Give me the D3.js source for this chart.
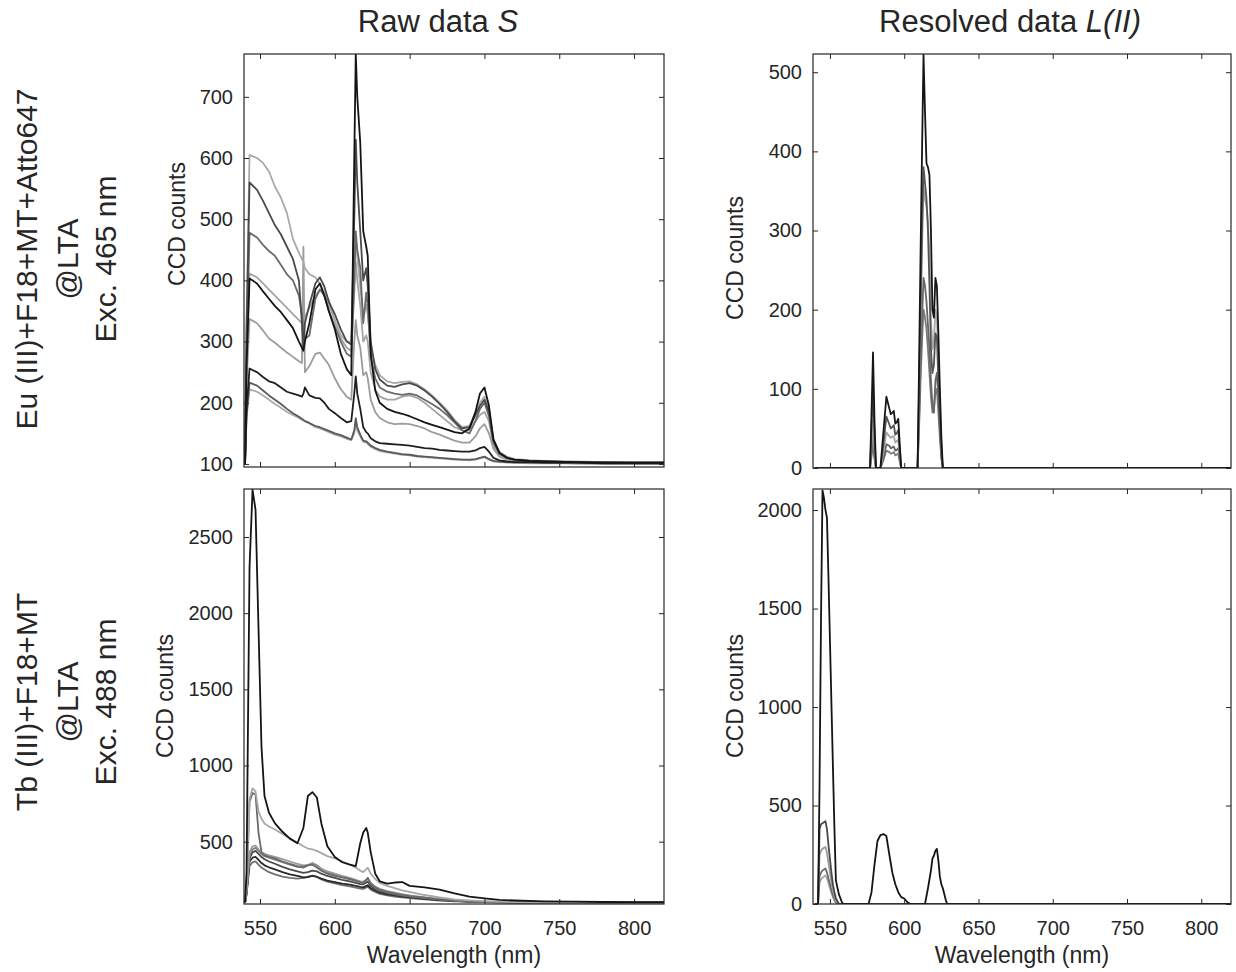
<!DOCTYPE html>
<html>
<head>
  <style>
    body { margin: 0; background: #fff; }
    svg text { font-family: "Liberation Sans", Arial, sans-serif; fill: #262626; }
  </style>
</head>
<body>
  <svg id="chart" width="1236" height="972"></svg>

  <script src="https://d3js.org/d3.v7.min.js"></script>
  <script>
    // ---- data ----
    const xTicks = [550, 600, 650, 700, 750, 800];
    const columnTitles = ['Raw data ', 'Resolved data '];
    const columnTitlesItalic = ['S', 'L(II)'];
    const rowLabels = [
      ['Eu (III)+F18+MT+Atto647', '@LTA', 'Exc. 465 nm'],
      ['Tb (III)+F18+MT', '@LTA', 'Exc. 488 nm']
    ];
    const yTicksEuRaw = [100, 200, 300, 400, 500, 600, 700];
    const yTicksEuRes = [0, 100, 200, 300, 400, 500];
    const yTicksTbRaw = [500, 1000, 1500, 2000, 2500];
    const yTicksTbRes = [0, 500, 1000, 1500, 2000];

    // Eu raw spectra (top left)
    const euRawWl = [540, 541, 543, 548, 552, 556, 560, 564, 568, 572,
      576, 578, 579, 580, 583, 587, 590, 593, 596, 600,
      604, 608, 611, 613, 614, 615, 617, 619, 621, 622,
      624, 627, 630, 635, 640, 645, 650, 655, 660, 665,
      670, 675, 680, 685, 690, 694, 697, 700, 703, 706,
      710, 715, 720, 730, 740, 760, 780, 800, 820];
    const euRawI = [100, 175, 222, 218, 212, 205, 198, 192, 185, 180, 175, 172, 171, 170, 166, 160, 158, 155, 152, 148, 145, 141, 139, 150, 165, 155, 145, 136, 135, 133, 128, 124, 121, 119, 117, 115, 114, 112, 111, 110, 109, 108, 107, 107, 106, 107, 109, 111, 107, 104, 103, 102, 102, 101, 101, 101, 100, 100, 100];
    const euRawH = [100, 180, 233, 228, 220, 212, 205, 198, 190, 183, 177, 174, 172, 170, 167, 162, 160, 157, 154, 150, 147, 143, 140, 155, 175, 160, 148, 138, 137, 135, 130, 126, 123, 120, 118, 116, 115, 113, 112, 111, 110, 109, 108, 107, 107, 108, 110, 112, 108, 105, 104, 103, 102, 102, 102, 101, 101, 101, 101];
    const euRawF = [100, 230, 337, 330, 318, 305, 298, 290, 282, 275, 268, 265, 455, 250, 260, 280, 282, 272, 262, 240, 222, 210, 205, 300, 335, 310, 290, 245, 250, 240, 205, 185, 175, 168, 165, 166, 165, 162, 158, 152, 148, 143, 138, 135, 135, 145, 158, 165, 150, 125, 112, 107, 105, 104, 103, 102, 102, 101, 101];
    const euRawE = [100, 270, 411, 405, 395, 385, 375, 365, 355, 345, 335, 330, 330, 340, 355, 375, 385, 380, 360, 335, 305, 290, 285, 380, 430, 400, 360, 300, 310, 300, 250, 222, 210, 205, 205, 210, 212, 208, 200, 190, 180, 170, 160, 155, 155, 170, 180, 185, 170, 130, 115, 108, 106, 105, 104, 103, 102, 102, 102];
    const euRawA = [100, 330, 605, 600, 592, 578, 553, 535, 510, 468, 445, 435, 430, 420, 410, 405, 395, 380, 368, 335, 310, 300, 300, 400, 470, 440, 390, 340, 360, 345, 290, 262, 245, 235, 232, 234, 235, 230, 222, 212, 200, 188, 172, 160, 162, 185, 200, 210, 190, 140, 120, 112, 108, 106, 105, 104, 103, 103, 103];
    const euRawC = [100, 280, 478, 470, 458, 448, 440, 425, 410, 400, 375, 345, 320, 305, 310, 370, 385, 375, 350, 325, 300, 280, 275, 400, 480, 450, 420, 330, 380, 360, 275, 240, 225, 218, 215, 213, 215, 212, 205, 198, 190, 180, 168, 155, 150, 170, 190, 200, 178, 135, 117, 110, 107, 105, 104, 103, 102, 102, 102];
    const euRawB = [100, 320, 560, 548, 530, 510, 490, 475, 455, 435, 400, 330, 290, 330, 360, 395, 405, 390, 365, 345, 320, 300, 295, 500, 630, 560, 480, 400, 420, 390, 300, 255, 238, 228, 226, 230, 232, 228, 220, 210, 198, 185, 170, 158, 160, 180, 195, 205, 185, 138, 118, 110, 107, 105, 104, 103, 103, 102, 102];
    const euRawG = [100, 190, 256, 250, 242, 235, 232, 225, 218, 215, 212, 210, 215, 225, 212, 208, 207, 200, 190, 183, 175, 168, 170, 215, 243, 215, 190, 160, 152, 150, 142, 137, 134, 133, 132, 131, 130, 128, 126, 125, 123, 122, 121, 120, 120, 122, 126, 128, 120, 110, 106, 104, 103, 103, 102, 102, 101, 101, 101];
    const euRawD = [100, 260, 403, 395, 382, 370, 358, 348, 335, 322, 300, 290, 285, 300, 330, 385, 395, 375, 350, 320, 280, 255, 245, 600, 770, 700, 625, 480, 455, 440, 280, 220, 200, 190, 185, 182, 178, 173, 168, 164, 160, 156, 152, 150, 158, 185, 215, 225, 195, 140, 118, 110, 107, 105, 104, 103, 102, 102, 102];

    // Eu resolved L(II) (top right)
    const euResWl = [540, 576, 577, 578, 579, 580, 581, 584, 586, 588,
      590, 591, 592, 593, 594, 595, 596, 597, 598, 609,
      610, 611, 612, 613, 614, 615, 616, 617, 618, 619,
      620, 621, 622, 623, 624, 625, 626, 820];
    const euResE = [0, 0, 0, 15, 30, 12, 0, 0, 10, 22, 20, 18, 19, 20, 16, 17, 18, 8, 0, 0, 50, 110, 160, 200, 190, 175, 150, 120, 90, 70, 75, 95, 100, 70, 40, 12, 0, 0];
    const euResD = [0, 0, 0, 20, 40, 15, 0, 0, 12, 30, 28, 25, 26, 27, 22, 23, 25, 10, 0, 0, 60, 130, 190, 240, 230, 210, 180, 150, 110, 80, 70, 110, 120, 90, 50, 15, 0, 0];
    const euResC = [0, 0, 0, 30, 60, 25, 0, 0, 20, 45, 40, 38, 40, 40, 32, 34, 36, 15, 0, 0, 90, 190, 280, 355, 340, 330, 310, 270, 190, 150, 160, 200, 190, 140, 80, 30, 0, 0];
    const euResB = [0, 0, 0, 50, 102, 40, 0, 0, 30, 65, 55, 50, 52, 54, 42, 44, 48, 20, 0, 0, 95, 200, 300, 380, 360, 340, 300, 230, 150, 120, 130, 170, 165, 110, 60, 20, 0, 0];
    const euResA = [0, 0, 0, 70, 146, 60, 0, 0, 45, 90, 75, 68, 70, 72, 56, 58, 62, 30, 0, 0, 130, 270, 400, 522, 450, 385, 380, 370, 300, 200, 190, 240, 230, 170, 100, 40, 0, 0];

    // Tb raw spectra (bottom left)
    const tbRawWl = [540, 541, 543, 545, 547, 549, 551, 553, 556, 560,
      565, 570, 575, 579, 582, 585, 588, 591, 595, 600,
      605, 610, 614, 617, 619, 621, 622, 624, 627, 630,
      635, 640, 645, 650, 660, 670, 680, 690, 700, 710,
      720, 740, 760, 780, 800, 820];
    const tbRawH = [100, 150, 340, 365, 370, 350, 330, 318, 300, 285, 270, 262, 258, 262, 270, 278, 268, 252, 238, 226, 215, 206, 198, 192, 190, 200, 205, 185, 170, 158, 148, 140, 134, 129, 121, 114, 109, 105, 103, 102, 101, 100, 100, 100, 100, 100];
    const tbRawG = [100, 160, 370, 395, 400, 380, 360, 345, 332, 318, 300, 285, 275, 265, 268, 275, 270, 258, 245, 235, 225, 218, 210, 203, 200, 210, 214, 195, 178, 165, 155, 147, 140, 134, 125, 117, 111, 106, 103, 102, 101, 100, 100, 100, 100, 100];
    const tbRawF = [100, 165, 390, 430, 440, 420, 400, 385, 370, 355, 335, 318, 305, 295, 300, 310, 305, 290, 275, 262, 250, 240, 230, 222, 220, 232, 238, 210, 188, 175, 162, 153, 145, 138, 128, 120, 113, 108, 104, 103, 102, 101, 100, 100, 100, 100];
    const tbRawE = [100, 170, 410, 450, 460, 440, 420, 405, 395, 382, 365, 350, 335, 330, 345, 360, 345, 322, 300, 282, 268, 255, 243, 232, 230, 248, 260, 225, 198, 182, 168, 158, 150, 143, 132, 122, 114, 108, 105, 103, 102, 101, 100, 100, 100, 100];
    const tbRawD = [100, 180, 430, 470, 475, 450, 430, 420, 410, 400, 385, 370, 355, 345, 348, 355, 340, 320, 305, 290, 275, 262, 250, 240, 238, 250, 256, 230, 205, 190, 175, 165, 155, 148, 135, 125, 116, 110, 106, 104, 102, 101, 101, 100, 100, 100];
    const tbRawC = [100, 200, 760, 820, 810, 560, 430, 410, 400, 390, 370, 355, 340, 335, 345, 350, 330, 310, 290, 275, 265, 255, 245, 235, 230, 250, 262, 225, 200, 185, 170, 160, 150, 143, 132, 122, 114, 108, 105, 103, 102, 101, 101, 100, 100, 100];
    const tbRawB = [100, 200, 780, 850, 830, 700, 650, 620, 600, 580, 550, 520, 495, 470, 455, 450, 440, 425, 405, 390, 370, 350, 330, 310, 300, 320, 330, 290, 255, 230, 210, 195, 180, 170, 150, 135, 122, 115, 110, 106, 104, 102, 101, 101, 100, 100];
    const tbRawA = [100, 300, 2300, 2810, 2680, 1900, 1120, 800, 690, 620, 565, 520, 490, 590, 800, 825, 790, 620, 470, 400, 365, 350, 340, 490, 560, 590, 560, 430, 290, 240, 225, 232, 235, 210, 200, 185, 160, 140, 128, 118, 114, 108, 106, 104, 103, 103];

    // Tb resolved L(II) (bottom right)
    const tbResWl = [540, 541, 542, 543, 544, 545, 546, 547, 548, 549,
      550, 551, 552, 553, 554, 556, 558, 559, 576, 578,
      580, 582, 584, 586, 588, 590, 592, 594, 596, 598,
      600, 602, 604, 614, 616, 618, 619, 620, 621, 622,
      623, 624, 625, 626, 628, 629, 820];
    const tbResE = [0, 0, 0, 110, 125, 135, 140, 145, 130, 105, 80, 55, 35, 18, 5, 0, 0, 0, 0, 0, 0, 0, 0, 0, 0, 0, 0, 0, 0, 0, 0, 0, 0, 0, 0, 0, 0, 0, 0, 0, 0, 0, 0, 0, 0, 0, 0];
    const tbResD = [0, 0, 0, 140, 160, 170, 175, 180, 160, 130, 100, 70, 45, 25, 10, 0, 0, 0, 0, 0, 0, 0, 0, 0, 0, 0, 0, 0, 0, 0, 0, 0, 0, 0, 0, 0, 0, 0, 0, 0, 0, 0, 0, 0, 0, 0, 0];
    const tbResC = [0, 0, 0, 250, 270, 280, 285, 290, 260, 210, 160, 110, 70, 40, 15, 0, 0, 0, 0, 0, 0, 0, 0, 0, 0, 0, 0, 0, 0, 0, 0, 0, 0, 0, 0, 0, 0, 0, 0, 0, 0, 0, 0, 0, 0, 0, 0];
    const tbResB = [0, 0, 0, 380, 405, 410, 415, 420, 380, 300, 230, 160, 100, 60, 30, 0, 0, 0, 0, 0, 0, 0, 0, 0, 0, 0, 0, 0, 0, 0, 0, 0, 0, 0, 0, 0, 0, 0, 0, 0, 0, 0, 0, 0, 0, 0, 0];
    const tbResA = [0, 0, 0, 600, 1450, 2100, 2060, 2000, 1960, 1660, 1340, 1020, 700, 390, 120, 50, 10, 0, 0, 60, 200, 320, 350, 355, 345, 250, 160, 100, 60, 35, 28, 10, 0, 0, 80, 170, 230, 245, 270, 280, 220, 140, 100, 80, 20, 0, 0];

    // ---- layout ----
    const svg = d3.select('#chart');
    const ink = '#262626';

    const panels = [
      { id: 'euRaw', left: 244, right: 664, top: 54, bottom: 467, xDomain: [539.3, 820], yDomain: [95, 770],
        yTicks: yTicksEuRaw, wl: euRawWl, xLabels: false, ylabX: 185, ylabY: 224,
        series: [euRawI, euRawH, euRawF, euRawE, euRawA, euRawC, euRawB, euRawG, euRawD],
        shades: ['#ababab', '#5a5a5a', '#9c9c9c', '#a4a4a4', '#a9a9a9', '#6a6a6a', '#4a4a4a', '#1e1e1e', '#141414'] },
      { id: 'euRes', left: 813, right: 1231, top: 54, bottom: 468, xDomain: [538.6, 820], yDomain: [0, 523],
        yTicks: yTicksEuRes, wl: euResWl, xLabels: false, ylabX: 743, ylabY: 258,
        series: [euResE, euResD, euResC, euResB, euResA],
        shades: ['#7a7a7a', '#666666', '#a6a6a6', '#555555', '#161616'] },
      { id: 'tbRaw', left: 244, right: 664, top: 489, bottom: 904, xDomain: [539.3, 820], yDomain: [91, 2815],
        yTicks: yTicksTbRaw, wl: tbRawWl, xLabels: true, ylabX: 173, ylabY: 696,
        series: [tbRawH, tbRawG, tbRawF, tbRawE, tbRawD, tbRawC, tbRawB, tbRawA],
        shades: ['#707070', '#2a2a2a', '#4a4a4a', '#7c7c7c', '#9a9a9a', '#6a6a6a', '#a8a8a8', '#141414'] },
      { id: 'tbRes', left: 813, right: 1231, top: 489, bottom: 904, xDomain: [538.6, 820], yDomain: [0, 2107],
        yTicks: yTicksTbRes, wl: tbResWl, xLabels: true, ylabX: 743, ylabY: 696,
        series: [tbResE, tbResD, tbResC, tbResB, tbResA],
        shades: ['#a8a8a8', '#6a6a6a', '#9a9a9a', '#4a4a4a', '#141414'] }
    ];

    const defs = svg.append('defs');

    panels.forEach(p => {
      const x = d3.scaleLinear().domain(p.xDomain).range([p.left, p.right]);
      const y = d3.scaleLinear().domain(p.yDomain).range([p.bottom, p.top]);

      defs.append('clipPath').attr('id', `clip-${p.id}`)
        .append('rect')
        .attr('x', p.left).attr('y', p.top)
        .attr('width', p.right - p.left).attr('height', p.bottom - p.top);

      const line = d3.line()
        .x((d, i) => x(p.wl[i]))
        .y(d => y(d));

      svg.append('g')
        .attr('clip-path', `url(#clip-${p.id})`)
        .selectAll('path')
        .data(p.series)
        .join('path')
        .attr('d', line)
        .attr('fill', 'none')
        .attr('stroke', (d, i) => p.shades[i])
        .attr('stroke-width', 1.8)
        .attr('stroke-linejoin', 'round');

      // ticks point inward on all four sides
      const axes = [
        [d3.axisBottom(x).tickValues(xTicks).tickSizeInner(-5).tickSizeOuter(0).tickPadding(17)
          .tickFormat(p.xLabels ? d3.format('d') : () => ''), `translate(0,${p.bottom})`],
        [d3.axisTop(x).tickValues(xTicks).tickSizeInner(-5).tickSizeOuter(0).tickFormat(() => ''), `translate(0,${p.top})`],
        [d3.axisLeft(y).tickValues(p.yTicks).tickSizeInner(-5).tickSizeOuter(0).tickPadding(11)
          .tickFormat(d3.format('d')), `translate(${p.left},0)`],
        [d3.axisRight(y).tickValues(p.yTicks).tickSizeInner(-5).tickSizeOuter(0).tickFormat(() => ''), `translate(${p.right},0)`]
      ];
      axes.forEach(([axis, tr]) => {
        const g = svg.append('g').attr('transform', tr).call(axis);
        g.select('.domain').remove();
        g.selectAll('line').attr('stroke', ink);
        g.attr('font-size', 20).attr('font-family', '"Liberation Sans", Arial, sans-serif');
        g.selectAll('text').attr('fill', ink);
      });

      svg.append('rect')
        .attr('x', p.left).attr('y', p.top)
        .attr('width', p.right - p.left).attr('height', p.bottom - p.top)
        .attr('fill', 'none')
        .attr('stroke', ink)
        .attr('stroke-width', 1.2);

      svg.append('text')
        .attr('transform', `translate(${p.ylabX},${p.ylabY}) rotate(-90)`)
        .attr('text-anchor', 'middle')
        .attr('font-size', 23)
        .text('CCD counts');

      if (p.xLabels) {
        svg.append('text')
          .attr('x', (p.left + p.right) / 2)
          .attr('y', 963)
          .attr('text-anchor', 'middle')
          .attr('font-size', 23)
          .text('Wavelength (nm)');
      }
    });

    // column titles
    [438, 1010].forEach((cx, i) => {
      const t = svg.append('text')
        .attr('x', cx).attr('y', 32)
        .attr('text-anchor', 'middle')
        .attr('font-size', 31);
      t.append('tspan').text(columnTitles[i]);
      t.append('tspan').attr('font-style', 'italic').text(columnTitlesItalic[i]);
    });

    // row labels, rotated
    [259, 702].forEach((cy, r) => {
      rowLabels[r].forEach((txt, k) => {
        svg.append('text')
          .attr('transform', `translate(${[37, 78, 116][k]},${cy}) rotate(-90)`)
          .attr('text-anchor', 'middle')
          .attr('font-size', 30)
          .text(txt);
      });
    });
  </script>
</body>
</html>
